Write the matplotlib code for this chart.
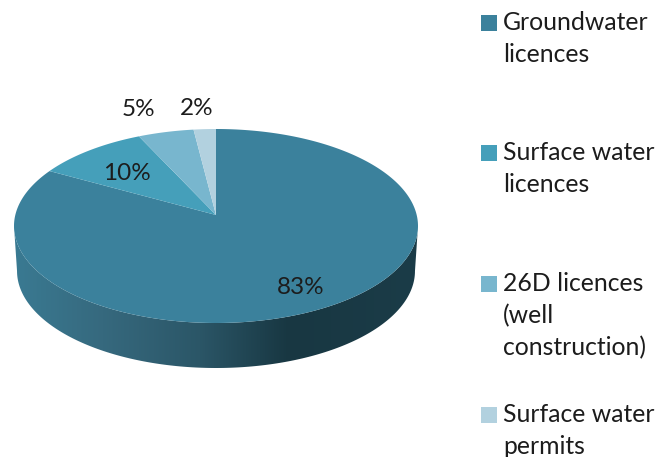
import matplotlib
matplotlib.use("Agg")
import matplotlib.pyplot as plt
import numpy as np
from matplotlib.colors import LinearSegmentedColormap
from matplotlib.patches import Rectangle

plt.rcParams['font.family'] = ['Lato', 'DejaVu Sans']

# data
categories = ["Groundwater\nlicences", "Surface water\nlicences",
              "26D licences\n(well\nconstruction)", "Surface water\npermits"]
values = [83, 10, 5, 2]
colors = ["#3b819c", "#459fba", "#78b6ce", "#b2d1df"]

# where things sit on the page, in pixels
cx, cy, rx, ry = 216, 226, 202, 97
apex_y = 215
depth = 45
W, H = 667, 457

def ux(p):
    return (p - cx) / rx

def uy(p):
    return (cy - p) / ry

fig = plt.figure(figsize=(W / 100, H / 100), dpi=100)
ax = fig.add_axes([0, 0, 1, 1])

# (1) side of the disc, a gradient clipped to the lower half of the ellipse
t = np.linspace(np.pi, 2 * np.pi, 200)
top_x, top_y = np.cos(t), np.sin(t)
side_x = np.concatenate([top_x, top_x[::-1] * 0.985])  # bottom edge a bit narrower
side_y = np.concatenate([top_y, top_y[::-1] - depth / ry])

side_cmap = LinearSegmentedColormap.from_list("side", [
    (0.00, "#3a7a92"), (0.22, "#36697e"), (0.46, "#2b5667"),
    (0.68, "#183742"), (1.00, "#1b3c48")])
grad = np.linspace(0, 1, 256).reshape(1, -1)
im = ax.imshow(grad, cmap=side_cmap, aspect='auto', extent=(-1, 1, -2, 1), zorder=1)
clip = plt.Polygon(np.column_stack([side_x, side_y]), closed=True,
                   facecolor='none', edgecolor='none', transform=ax.transData)
ax.add_patch(clip)
im.set_clip_path(clip)

# (2) top of the disc: pie cut down to the ellipse
wedges, _ = ax.pie(values, colors=colors, startangle=90, counterclock=False,
                   center=(0, uy(apex_y)), radius=1.5, frame=True)
a = np.linspace(0, 2 * np.pi, 400)
outline = plt.Polygon(np.column_stack([np.cos(a), np.sin(a)]), closed=True,
                      facecolor='none', edgecolor='none', transform=ax.transData)
ax.add_patch(outline)
for w in wedges:
    w.set_zorder(2)
    w.set_linewidth(0)
    w.set_clip_on(True)  # pie turns clipping off
    w.set_clip_path(outline)

ax.set_aspect('auto')
ax.set_xlim(ux(0), ux(W))
ax.set_ylim(uy(H), uy(0))
ax.axis('off')

# (3) percent labels
text_color = "#1c1c1c"
label_pos = [(301, 287), (127, 173), (138, 109), (197, 108)]
for v, (px, py) in zip(values, label_pos):
    ax.text(ux(px), uy(py), "%d%%" % v, fontsize=17.5, color=text_color,
            ha='center', va='center', zorder=3)

# (4) legend by hand because the gaps are uneven
legend_tops = [15, 145, 276, 407]
for name, col, top in zip(categories, colors, legend_tops):
    ax.add_patch(Rectangle((ux(481), uy(top + 15.5)), 15.5 / rx, 15.5 / ry,
                           facecolor=col, edgecolor='none', zorder=3))
    for i, line in enumerate(name.split("\n")):
        ax.text(ux(503), uy(top + 7.5 + 32 * i), line, fontsize=17.8, color=text_color,
                ha='left', va='center', zorder=3)

fig.savefig("out.png", dpi=100)
